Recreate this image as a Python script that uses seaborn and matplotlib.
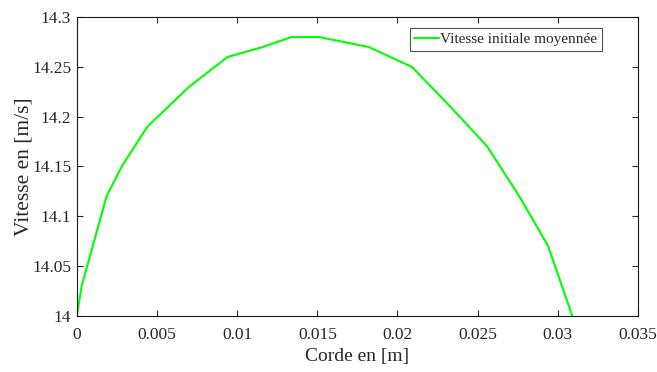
import numpy as np
import pandas as pd
import matplotlib
matplotlib.use("Agg")
import matplotlib.pyplot as plt
import seaborn as sns

corde = [0, 0.0003, 0.00185, 0.0028, 0.0044, 0.0057, 0.0070, 0.0094, 0.0116,
         0.0134, 0.0151, 0.0182, 0.0209, 0.0233, 0.0256, 0.0276, 0.0294, 0.0309]
vitesse = [14.0, 14.03, 14.12, 14.15, 14.19, 14.21, 14.23, 14.26, 14.27,
           14.28, 14.28, 14.27, 14.25, 14.21, 14.17, 14.12, 14.07, 14.0]
xticks = [0, 0.005, 0.01, 0.015, 0.02, 0.025, 0.03, 0.035]
xtick_labels = ["0", "0.005", "0.01", "0.015", "0.02", "0.025", "0.03", "0.035"]
yticks = [14, 14.05, 14.1, 14.15, 14.2, 14.25, 14.3]
ytick_labels = ["14", "14.05", "14.1", "14.15", "14.2", "14.25", "14.3"]

sns.set_style("ticks")
plt.rcParams['font.family'] = ['Liberation Serif', 'DejaVu Serif']

df = pd.DataFrame({'x': corde, 'y': vitesse})

fig = plt.figure(figsize=(6.57, 3.72), dpi=100)
ax = fig.add_axes([0.117, 0.151, 0.854, 0.803])
sns.lineplot(data=df, x='x', y='y', color='#00ff00', linewidth=1.5,
             sort=False, label='Vitesse initiale moyennée', ax=ax)

ax.set_xlim(0, 0.035)
ax.set_ylim(14, 14.3)
ax.set_xticks(xticks)
ax.set_xticklabels(xtick_labels)
ax.set_yticks(yticks)
ax.set_yticklabels(ytick_labels)
ax.tick_params(direction='in', top=True, right=True, labelsize=12.5, length=4,
               width=0.8, colors='#262626')
ax.tick_params(axis='x', pad=8)
ax.tick_params(axis='y', pad=4)
for s in ax.spines.values():
    s.set_visible(True)
    s.set_linewidth(0.8)
    s.set_color('#1a1a1a')
ax.set_xlabel('Corde en [m]', fontsize=14, color='#262626', labelpad=4)
ax.set_ylabel('Vitesse en [m/s]', fontsize=15.5, color='#262626', labelpad=-1)

leg = ax.legend(loc='upper right', bbox_to_anchor=(0.936, 0.963), fontsize=11,
                frameon=True, fancybox=False, edgecolor='#262626', borderpad=0.3,
                handlelength=1.6, handletextpad=0.1, borderaxespad=0)
leg.get_frame().set_linewidth(0.8)

fig.savefig('out.png', dpi=100)
